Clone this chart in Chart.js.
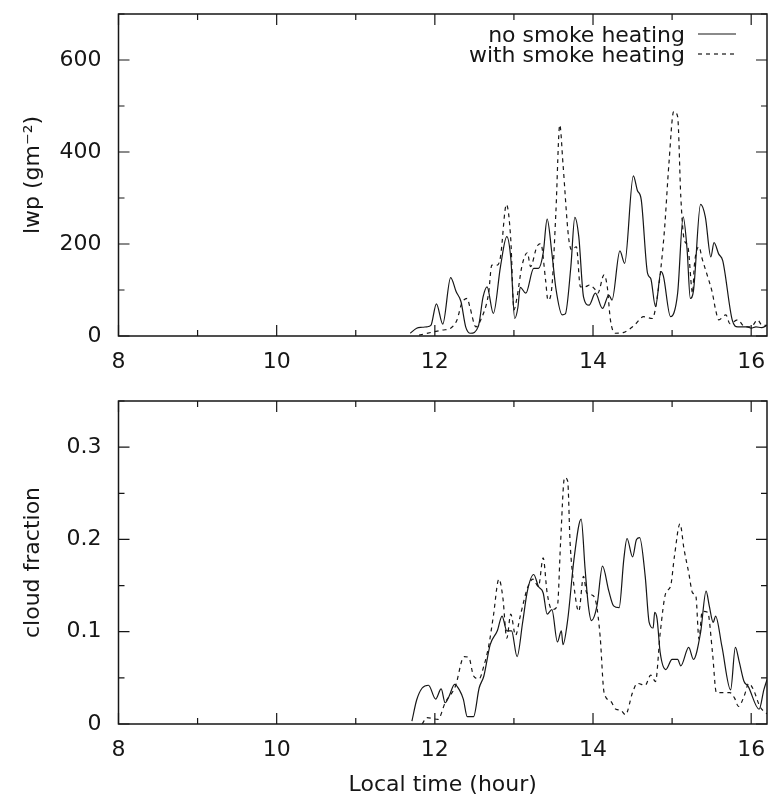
<!DOCTYPE html>
<html>
<head>
<meta charset="utf-8">
<title>lwp and cloud fraction</title>
<script src="https://cdn.jsdelivr.net/npm/chart.js@4.4.1/dist/chart.umd.min.js"></script>
<style>
  body { margin: 0; background: #fff; }
  canvas { position: absolute; left: 0; }
  #lwpChart { top: 0px; }
  #cloudChart { top: 380px; }
</style>
</head>
<body>
<canvas id="lwpChart" width="769" height="380"></canvas>
<canvas id="cloudChart" width="769" height="422"></canvas>
<script>
const seriesLabels = ['no smoke heating', 'with smoke heating'];

// liquid water path (g m-2)
const lwpNoSmokeTime = [11.69, 11.77, 11.84, 11.90, 11.95, 12.02, 12.10, 12.20, 12.27, 12.33,
  12.39, 12.45, 12.55, 12.61, 12.66, 12.74, 12.83, 12.91, 12.96, 13.01,
  13.05, 13.08, 13.15, 13.25, 13.31, 13.37, 13.42, 13.48, 13.53, 13.61,
  13.65, 13.72, 13.77, 13.82, 13.88, 13.95, 14.03, 14.12, 14.20, 14.24,
  14.34, 14.40, 14.51, 14.56, 14.61, 14.69, 14.73, 14.79, 14.86, 14.89,
  14.98, 15.07, 15.14, 15.19, 15.23, 15.27, 15.36, 15.42, 15.49, 15.53,
  15.59, 15.64, 15.76, 15.83, 15.95, 16.00, 16.06, 16.13, 16.20];
const lwpNoSmoke = [6, 17, 19, 20, 23, 70, 26, 127, 96, 75,
  20, 6, 21, 85, 107, 49, 151, 216, 170, 38,
  62, 106, 93, 147, 147, 180, 254, 180, 104, 46,
  48, 151, 258, 216, 85, 67, 93, 60, 89, 78,
  185, 158, 348, 317, 296, 136, 125, 64, 140, 130,
  42, 93, 259, 187, 82, 98, 286, 259, 172, 203,
  178, 164, 35, 20, 20, 17, 20, 18, 23];

const lwpSmokeTime = [11.80, 11.96, 12.10, 12.20, 12.28, 12.34, 12.41, 12.44, 12.52, 12.58,
  12.68, 12.72, 12.79, 12.83, 12.905, 12.96, 13.00, 13.04, 13.10, 13.17,
  13.21, 13.29, 13.34, 13.40, 13.43, 13.48, 13.53, 13.58, 13.62, 13.69,
  13.73, 13.79, 13.84, 13.90, 13.96, 14.03, 14.06, 14.14, 14.18, 14.22,
  14.28, 14.39, 14.52, 14.64, 14.75, 14.81, 14.90, 14.96, 15.02, 15.07,
  15.11, 15.15, 15.20, 15.26, 15.28, 15.34, 15.38, 15.45, 15.51, 15.55,
  15.59, 15.68, 15.73, 15.83, 15.92, 16.00, 16.08, 16.14, 16.20];
const lwpSmoke = [2, 8, 13, 17, 35, 71, 82, 65, 20, 35,
  93, 154, 154, 172, 286, 210, 57, 85, 151, 181,
  151, 194, 201, 122, 78, 107, 267, 459, 375, 216,
  187, 194, 107, 107, 111, 100, 93, 133, 107, 35,
  6, 8, 23, 42, 38, 82, 223, 375, 488, 477,
  303, 212, 194, 93, 151, 194, 168, 129, 93, 57,
  35, 46, 27, 35, 20, 20, 35, 23, 23];

// cloud fraction
const cloudNoSmokeTime = [11.71, 11.77, 11.84, 11.92, 12.01, 12.08, 12.13, 12.18, 12.25, 12.31,
  12.36, 12.41, 12.49, 12.56, 12.62, 12.70, 12.79, 12.85, 12.91, 12.97,
  13.04, 13.11, 13.17, 13.25, 13.31, 13.37, 13.42, 13.48, 13.55, 13.60,
  13.62, 13.68, 13.76, 13.85, 13.90, 13.94, 13.98, 14.05, 14.12, 14.20,
  14.26, 14.33, 14.39, 14.43, 14.50, 14.55, 14.59, 14.66, 14.71, 14.76,
  14.78, 14.81, 14.85, 14.92, 15.00, 15.07, 15.11, 15.21, 15.27, 15.36,
  15.43, 15.47, 15.52, 15.55, 15.63, 15.74, 15.80, 15.85, 15.91, 15.96,
  16.10, 16.16, 16.20];
const cloudNoSmoke = [0.003, 0.026, 0.039, 0.042, 0.027, 0.038, 0.023, 0.030, 0.043, 0.037,
  0.027, 0.008, 0.008, 0.039, 0.052, 0.086, 0.101, 0.117, 0.101, 0.101,
  0.073, 0.110, 0.144, 0.162, 0.149, 0.142, 0.119, 0.124, 0.089, 0.101,
  0.086, 0.113, 0.179, 0.222, 0.168, 0.129, 0.112, 0.128, 0.171, 0.144,
  0.128, 0.126, 0.179, 0.201, 0.181, 0.200, 0.202, 0.160, 0.110, 0.104,
  0.121, 0.114, 0.077, 0.059, 0.070, 0.070, 0.063, 0.083, 0.070, 0.099,
  0.144, 0.128, 0.110, 0.117, 0.084, 0.037, 0.083, 0.067, 0.046, 0.041,
  0.016, 0.037, 0.048];

const cloudSmokeTime = [11.84, 11.90, 12.04, 12.13, 12.26, 12.37, 12.43, 12.49, 12.56, 12.62,
  12.68, 12.74, 12.81, 12.86, 12.91, 12.96, 13.02, 13.08, 13.17, 13.24,
  13.31, 13.37, 13.42, 13.48, 13.55, 13.59, 13.64, 13.68, 13.71, 13.76,
  13.82, 13.88, 13.92, 13.98, 14.04, 14.09, 14.14, 14.22, 14.29, 14.35,
  14.41, 14.50, 14.56, 14.66, 14.73, 14.79, 14.85, 14.92, 14.98, 15.03,
  15.10, 15.15, 15.21, 15.26, 15.30, 15.34, 15.38, 15.45, 15.51, 15.56,
  15.65, 15.73, 15.79, 15.84, 15.91, 15.97, 16.03, 16.11, 16.20];
const cloudSmoke = [0.0, 0.007, 0.005, 0.023, 0.041, 0.073, 0.072, 0.052, 0.049, 0.063,
  0.084, 0.117, 0.157, 0.137, 0.093, 0.119, 0.096, 0.117, 0.147, 0.157,
  0.149, 0.180, 0.142, 0.124, 0.128, 0.197, 0.267, 0.263, 0.197, 0.149,
  0.122, 0.160, 0.142, 0.140, 0.131, 0.095, 0.034, 0.025, 0.016, 0.015,
  0.010, 0.034, 0.044, 0.042, 0.053, 0.046, 0.099, 0.142, 0.149, 0.182,
  0.217, 0.190, 0.164, 0.142, 0.139, 0.092, 0.122, 0.121, 0.078, 0.034,
  0.034, 0.034, 0.028, 0.019, 0.030, 0.044, 0.037, 0.019, 0.011];

const ink = '#161616';
const smokeDash = [4, 4];

Chart.defaults.font.family = "'DejaVu Sans', sans-serif";
Chart.defaults.font.size = 22;
Chart.defaults.color = ink;

function toPoints(times, values) {
  return times.map((t, i) => ({ x: t, y: values[i] }));
}

// keep the plot box where we put it: no extra room for edge labels
function noEdgePadding(s) {
  s.paddingTop = 0;
  s.paddingBottom = 0;
  s.paddingLeft = 0;
  s.paddingRight = 0;
}

// gnuplot-like frame with inward ticks on all four sides
const frameTicks = {
  id: 'frameTicks',
  afterDraw(chart) {
    const { ctx, chartArea: a, scales: { x, y } } = chart;
    ctx.save();
    ctx.strokeStyle = ink;
    ctx.lineWidth = 1.5;
    ctx.strokeRect(a.left, a.top, a.right - a.left, a.bottom - a.top);
    ctx.lineWidth = 1.2;
    ctx.beginPath();
    x.ticks.forEach(t => {
      const px = x.getPixelForValue(t.value);
      const len = t.label !== '' ? 11 : 6;
      ctx.moveTo(px, a.bottom); ctx.lineTo(px, a.bottom - len);
      ctx.moveTo(px, a.top); ctx.lineTo(px, a.top + len);
    });
    y.ticks.forEach(t => {
      const py = y.getPixelForValue(t.value);
      const len = t.label !== '' ? 11 : 6;
      ctx.moveTo(a.left, py); ctx.lineTo(a.left + len, py);
      ctx.moveTo(a.right, py); ctx.lineTo(a.right - len, py);
    });
    ctx.stroke();
    ctx.restore();
  }
};

// key in the top right corner: label text, then a line sample
const keyBox = {
  id: 'keyBox',
  afterDraw(chart) {
    const ctx = chart.ctx;
    ctx.save();
    ctx.font = "22px 'DejaVu Sans', sans-serif";
    ctx.fillStyle = ink;
    ctx.strokeStyle = ink;
    ctx.lineWidth = 1.2;
    ctx.textAlign = 'right';
    ctx.textBaseline = 'middle';
    chart.data.datasets.forEach((ds, i) => {
      const yy = 36 + i * 20;
      ctx.fillText(ds.label, 685, yy);
      ctx.setLineDash(ds.borderDash || []);
      ctx.beginPath();
      ctx.moveTo(698, yy - 2);
      ctx.lineTo(736, yy - 2);
      ctx.stroke();
    });
    ctx.restore();
  }
};

function xAxis(height, title) {
  return {
    type: 'linear',
    min: 8,
    max: 16.2,
    grid: { display: false, drawTicks: false },
    border: { display: false },
    ticks: {
      stepSize: 1,
      includeBounds: false,
      autoSkip: false,
      maxRotation: 0,
      padding: 13,
      callback: v => (v % 2 === 0 ? String(v) : '')
    },
    title: title
      ? { display: true, text: title, padding: { top: 0, bottom: 4 }, font: { size: 22 } }
      : { display: false },
    afterFit: s => { s.height = height; noEdgePadding(s); }
  };
}

function yAxis(opts, title) {
  return Object.assign({
    grid: { display: false, drawTicks: false },
    border: { display: false },
    title: { display: true, text: title, padding: { top: 20, bottom: 0 }, font: { size: 22 } },
    afterFit: s => { s.width = 118.5; noEdgePadding(s); }
  }, opts);
}

function lineSet(label, times, values, dash) {
  return {
    label: label,
    data: toPoints(times, values),
    borderColor: ink,
    borderWidth: 1.2,
    borderDash: dash,
    pointRadius: 0,
    fill: false,
    cubicInterpolationMode: 'monotone'
  };
}

function loadLwpChart() {
  const ctx = document.getElementById('lwpChart').getContext('2d');
  new Chart(ctx, {
    type: 'line',
    data: {
      datasets: [
        lineSet(seriesLabels[0], lwpNoSmokeTime, lwpNoSmoke, []),
        lineSet(seriesLabels[1], lwpSmokeTime, lwpSmoke, smokeDash)
      ]
    },
    options: {
      responsive: false,
      animation: false,
      devicePixelRatio: 1,
      layout: { padding: { top: 14, right: 2, left: 0, bottom: 0 } },
      plugins: { legend: { display: false }, tooltip: { enabled: false } },
      scales: {
        x: xAxis(44, null),
        y: yAxis({
          min: 0,
          max: 700,
          ticks: {
            stepSize: 100,
            padding: 17,
            callback: v => (v % 200 === 0 ? String(v) : '')
          }
        }, 'lwp (gm\u207B\u00B2)')
      }
    },
    plugins: [frameTicks, keyBox]
  });
}

function loadCloudChart() {
  const ctx = document.getElementById('cloudChart').getContext('2d');
  new Chart(ctx, {
    type: 'line',
    data: {
      datasets: [
        lineSet(seriesLabels[0], cloudNoSmokeTime, cloudNoSmoke, []),
        lineSet(seriesLabels[1], cloudSmokeTime, cloudSmoke, smokeDash)
      ]
    },
    options: {
      responsive: false,
      animation: false,
      devicePixelRatio: 1,
      layout: { padding: { top: 21, right: 2, left: 0, bottom: 0 } },
      plugins: { legend: { display: false }, tooltip: { enabled: false } },
      scales: {
        x: xAxis(78, 'Local time (hour)'),
        y: yAxis({
          min: 0,
          max: 0.35,
          ticks: {
            stepSize: 0.05,
            padding: 17,
            callback: v => {
              const tenth = Math.round(v * 10);
              if (Math.abs(v * 10 - tenth) > 1e-6) return '';
              return tenth === 0 ? '0' : (tenth / 10).toFixed(1);
            }
          }
        }, 'cloud fraction')
      }
    },
    plugins: [frameTicks]
  });
}

loadLwpChart();
loadCloudChart();
</script>
</body>
</html>
